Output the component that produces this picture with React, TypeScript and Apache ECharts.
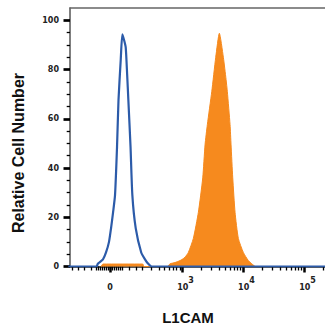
import React, { useEffect, useRef } from "react";
import * as echarts from "echarts";

// ---- data (raw fluorescence intensity, relative cell number) ----
const isotypeX = [-300, -70, -61, -35, -19.7, -5, 4.9, 15, 24.7, 34.8, 42.4, 54, 62.6, 72, 81.6, 90, 97.2, 111, 123, 147, 191, 226, 257, 300, 250000];
const isotypeY = [0, 0, 1.2, 2.9, 5.7, 10, 15.5, 22, 29, 48.6, 67.8, 84, 94.3, 92, 89, 78, 67.8, 48.6, 29, 15.5, 5.7, 2.9, 1.2, 0, 0];

const l1camX = [-45, -35, 205, 215, 560, 619, 750, 909, 1000, 1099, 1246, 1506, 1821, 2149, 2344, 2557, 3021, 3513, 4025, 4681, 5183, 5443, 6028, 6260, 6674, 7280, 8245, 9958, 12025, 13676, 15490];
const l1camY = [0, 1.0, 1.0, 0, 0, 1.1, 1.6, 2.4, 3, 3.8, 5.7, 11.4, 22, 36, 49.4, 57.6, 71, 85, 94.7, 85, 76, 71, 57.6, 49.4, 36, 22, 11.4, 5.7, 2.4, 1.1, 0];

const majorTicks = [0, 1000, 10000, 100000];
const majorLabels = ["0", "3", "4", "5"]; // "0" and exponents of 10
const minorTicks = [
  -250, -200, -150, -100,
  -70, -60, -50, -40, -30, -20, -10, 10, 20, 30, 40, 50, 60,
  100, 150, 200, 300, 400, 500, 600, 700, 800, 900,
  2000, 3000, 4000, 5000, 6000, 7000, 8000, 9000,
  20000, 30000, 40000, 50000, 60000, 70000, 80000, 90000, 200000,
];
const yMajor = [0, 20, 40, 60, 80, 100];
const yMinor = [5, 10, 15, 25, 30, 35, 45, 50, 55, 65, 70, 75, 85, 90, 95];

const X_MIN_RAW = -280;
const X_MAX_RAW = 217000;
const Y_MAX = 105;

// logicle-like (arcsinh) display transform
const COF = 130;
const toDisp = (v: number) => Math.asinh(v / COF) / Math.LN10;

const BLUE = "#2c5ba9";
const ORANGE = "#f68a1e";
const LABEL_FONT = "DejaVu Sans";

export default function App() {
  const ref = useRef<HTMLDivElement>(null);
  useEffect(() => {
    if (!ref.current) return;
    const chart = echarts.init(ref.current, null, { renderer: "svg" });
    const majorDisp = majorTicks.map(toDisp);
    const labelFor = (v: number) => {
      let best = 0;
      let bd = Infinity;
      majorDisp.forEach((d, i) => {
        const dd = Math.abs(d - v);
        if (dd < bd) { bd = dd; best = i; }
      });
      if (best === 0) return "{b|" + majorLabels[0] + "}";
      return "{p|10}{s|" + majorLabels[best] + "}";
    };
    const xCommon = {
      type: "value" as const,
      min: toDisp(X_MIN_RAW),
      max: toDisp(X_MAX_RAW),
      splitLine: { show: false },
    };
    chart.setOption({
      animation: false,
      grid: { left: 70, right: 0, top: 8, bottom: 60.5, containLabel: false },
      xAxis: [
        {
          ...xCommon,
          position: "bottom",
          axisLine: { show: true, onZero: false, lineStyle: { color: "#222", width: 1.5 } },
          axisTick: { show: true, customValues: majorDisp, length: 6, lineStyle: { color: "#000", width: 2.5 } },
          axisLabel: {
            show: true,
            customValues: majorDisp,
            margin: 12,
            formatter: (v: number) => labelFor(v),
            rich: {
              b: { fontFamily: LABEL_FONT, fontWeight: "bold", fontSize: 8, color: "#222", lineHeight: 10, padding: [7, 0, 0, 0] },
              p: { fontFamily: LABEL_FONT, fontWeight: "bold", fontSize: 8, color: "#222", lineHeight: 10, padding: [7, 0, 0, 6] },
              s: { fontFamily: LABEL_FONT, fontWeight: "bold", fontSize: 8, color: "#222", lineHeight: 8, padding: [0, 0, 7, 0] },
            },
          },
        },
        {
          ...xCommon,
          position: "bottom",
          axisLine: { show: false, onZero: false },
          axisTick: { show: true, customValues: minorTicks.map(toDisp), length: 4, lineStyle: { color: "#000", width: 1.3 } },
          axisLabel: { show: false },
        },
        {
          ...xCommon,
          position: "top",
          axisLine: { show: true, onZero: false, lineStyle: { color: "#666", width: 1.5 } },
          axisTick: { show: false },
          axisLabel: { show: false },
        },
      ],
      yAxis: [
        {
          type: "value",
          min: 0,
          max: Y_MAX,
          position: "left",
          splitLine: { show: false },
          axisLine: { show: true, onZero: false, lineStyle: { color: "#555", width: 1.5 } },
          axisTick: { show: true, customValues: yMajor, length: 6.5, lineStyle: { color: "#000", width: 2.7 } },
          axisLabel: {
            show: true,
            customValues: yMajor,
            margin: 11,
            fontFamily: LABEL_FONT,
            fontWeight: "bold",
            fontSize: 8,
            color: "#222",
          },
        },
        {
          type: "value",
          min: 0,
          max: Y_MAX,
          position: "left",
          splitLine: { show: false },
          axisLine: { show: false, onZero: false },
          axisTick: { show: true, customValues: yMinor, length: 3.3, lineStyle: { color: "#000", width: 1.3 } },
          axisLabel: { show: false },
        },
      ],
      series: [
        {
          name: "L1CAM",
          type: "line",
          xAxisIndex: 0,
          yAxisIndex: 0,
          data: l1camX.map((x, i) => [toDisp(x), l1camY[i]]),
          showSymbol: false,
          symbol: "none",
          smooth: 0.2,
          lineStyle: { color: ORANGE, width: 1 },
          areaStyle: { color: ORANGE, opacity: 1 },
          z: 2,
        },
        {
          name: "Isotype",
          type: "line",
          xAxisIndex: 0,
          yAxisIndex: 0,
          data: isotypeX.map((x, i) => [toDisp(x), isotypeY[i]]),
          showSymbol: false,
          symbol: "none",
          smooth: 0.2,
          lineStyle: { color: BLUE, width: 2.2 },
          z: 3,
        },
      ],
      graphic: [
        {
          type: "text",
          x: 18,
          y: 153,
          rotation: Math.PI / 2,
          style: {
            text: "Relative Cell Number",
            font: 'bold 16px "Liberation Sans"',
            fill: "#111",
            align: "center",
            verticalAlign: "middle",
          },
        },
        {
          type: "text",
          x: 188,
          y: 317.5,
          style: {
            text: "L1CAM",
            font: 'bold 15px "Liberation Sans"',
            fill: "#111",
            align: "center",
            verticalAlign: "middle",
          },
        },
      ],
    });
    return () => chart.dispose();
  }, []);
  return (
    <div
      ref={ref}
      style={{ position: "fixed", left: 0, top: 0, width: 325, height: 327, background: "#fff" }}
    />
  );
}
